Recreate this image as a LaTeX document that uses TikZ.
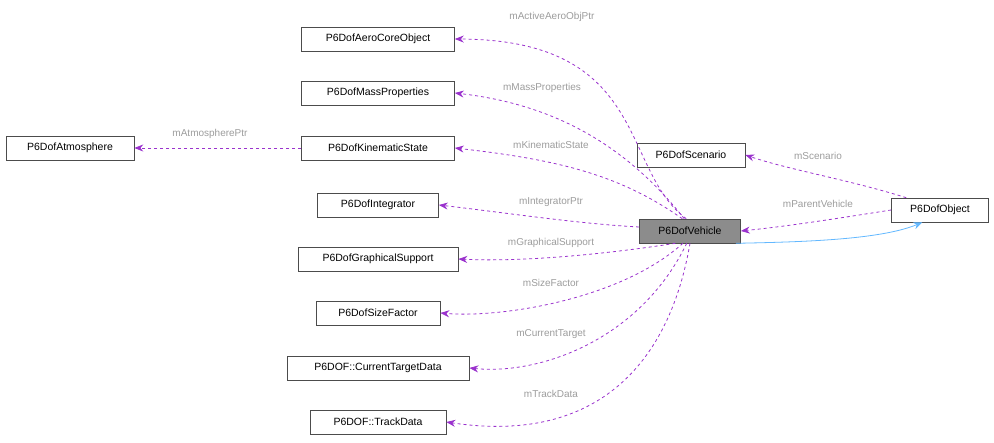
\documentclass[tikz,border=0pt]{standalone}
\usepackage{fontspec}
\setmainfont{Liberation Sans}
\usetikzlibrary{arrows.meta}
\definecolor{ed}{HTML}{9A32CD}
\definecolor{lb}{HTML}{9C9C9C}
\definecolor{bl}{HTML}{63B8FF}
\begin{document}
\begin{tikzpicture}[x=1pt,y=-1pt,
 box/.style={draw=black!70,fill=white,minimum height=24pt,inner xsep=4pt,font=\fontsize{10.5}{12}\selectfont,line width=0.6pt},
 dep/.style={draw=ed,dashed,line width=0.8pt,-{Stealth[length=9pt,width=7pt]}},
 lab/.style={text=lb,font=\fontsize{10}{11}\selectfont}]
\useasboundingbox (0,0) rectangle (994,443);
\node[box,minimum width=153pt] (aero) at (378,39) {P6DofAeroCoreObject};
\node[box,minimum width=153pt] (mass) at (378,93) {P6DofMassProperties};
\node[box,minimum width=128pt] (atm) at (70,148) {P6DofAtmosphere};
\node[box,minimum width=153pt] (kin) at (378,148) {P6DofKinematicState};
\node[box,minimum width=121pt] (integ) at (378,205) {P6DofIntegrator};
\node[box,minimum width=160pt] (gfx) at (378,259) {P6DofGraphicalSupport};
\node[box,minimum width=124pt] (size) at (378,313) {P6DofSizeFactor};
\node[box,minimum width=182pt] (tgt) at (378,368) {P6DOF::CurrentTargetData};
\node[box,minimum width=136pt] (trk) at (378,422) {P6DOF::TrackData};
\node[box,minimum width=108pt] (scn) at (691,155) {P6DofScenario};
\node[box,minimum width=101pt,fill=black!45] (veh) at (690,231) {P6DofVehicle};
\node[box,minimum width=97pt] (obj) at (940,210) {P6DofObject};

\draw[dep] (veh.107) .. controls (620,170) and (650,40) .. (aero.east);
\node[lab] at (552,17) {mActiveAeroObjPtr};
\draw[dep] (veh.115) .. controls (630,150) and (560,105) .. (mass.east);
\node[lab] at (542,88) {mMassProperties};
\draw[dep] (veh.122) .. controls (620,175) and (560,160) .. (kin.east);
\node[lab] at (551,145) {mKinematicState};
\draw[dep] (kin.west) -- (atm.east);
\node[lab] at (210,134) {mAtmospherePtr};
\draw[dep] (veh.west) ++(0,-4) .. controls (580,224) and (500,212) .. (integ.east);
\node[lab] at (551,202) {mIntegratorPtr};
\draw[dep] (veh.220) .. controls (600,255) and (520,262) .. (gfx.east);
\node[lab] at (551,243) {mGraphicalSupport};
\draw[dep] (veh.240) .. controls (620,300) and (500,318) .. (size.east);
\node[lab] at (551,283) {mSizeFactor};
\draw[dep] (veh.255) .. controls (640,340) and (540,375) .. (tgt.east);
\node[lab] at (551,334) {mCurrentTarget};
\draw[dep] (veh.270) .. controls (670,360) and (600,445) .. (trk.east);
\node[lab] at (551,394) {mTrackData};
\draw[dep] (obj.160) .. controls (850,180) and (790,170) .. (scn.east);
\node[lab] at (818,156) {mScenario};
\draw[dep] (obj.west) .. controls (840,218) and (790,226) .. (veh.east);
\node[lab] at (818,204) {mParentVehicle};
\draw[draw=bl,line width=0.8pt,-{Stealth[length=9pt,width=7pt]}] (veh.-15) .. controls (800,242) and (880,240) .. (obj.215);
\end{tikzpicture}
\end{document}
